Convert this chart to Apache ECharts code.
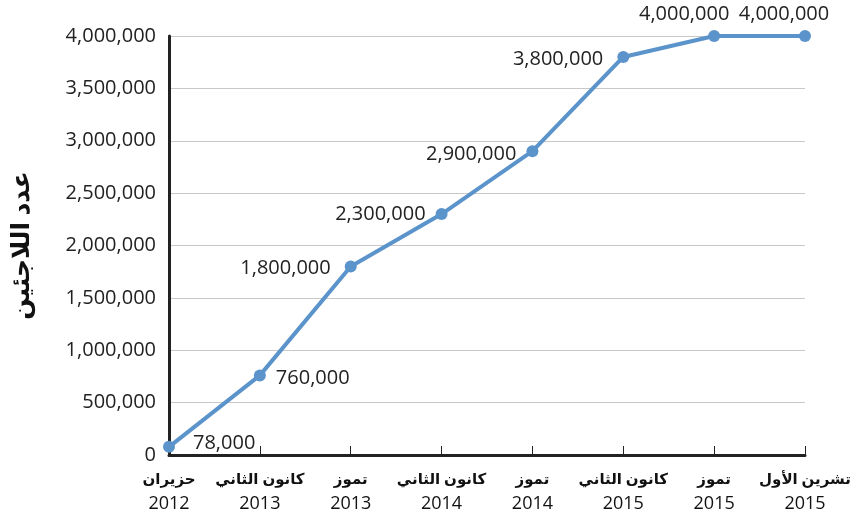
<!DOCTYPE html>
<html><head><meta charset="utf-8">
<script src="https://cdn.jsdelivr.net/npm/echarts@6/dist/echarts.min.js"></script>
<style>html,body{margin:0;padding:0;background:#fff}#c{width:853px;height:513px}</style>
</head><body><div id="c"></div>
<script>
const months = ['حزيران','كانون الثاني','تموز','كانون الثاني','تموز','كانون الثاني','تموز','تشرين الأول'];
const years = ['2012','2013','2013','2014','2014','2015','2015','2015'];
const refugees = [78000, 760000, 1800000, 2300000, 2900000, 3800000, 4000000, 4000000];
const labelPos = ['right','right','left','left','left','left','top','top'];
const labelShift = [[8,-4],[0,3],[-4,2],[0,0],[0,3],[-4,2],[-30,4],[-21,4]];
const yTitle = 'عدد اللاجئين';

const fmt = v => v.toLocaleString('en-US');
const chart = echarts.init(document.getElementById('c'));
chart.setOption({
  animation: false,
  textStyle: {fontFamily: '"Open Sans","Noto Sans",sans-serif'},
  grid: {left: 169, right: 48, top: 36, bottom: 58, containLabel: false, outerBoundsMode: 'none'},
  xAxis: {
    type: 'category', boundaryGap: false,
    data: months.map((m, i) => m + '\n' + years[i]),
    axisLine: {lineStyle: {color: '#222', width: 3}},
    axisTick: {inside: true, length: 9, lineStyle: {color: '#222', width: 1}},
    axisLabel: {
      margin: 13, color: '#111', interval: 0,
      formatter: (v) => { const p = v.split('\n'); return '{m|' + p[0] + '}\n{y|' + p[1] + '}'; },
      rich: {
        m: {fontSize: 15, fontWeight: 'bold', fontFamily: '"Noto Sans","DejaVu Sans",sans-serif', color: '#111', lineHeight: 24},
        y: {fontSize: 18, fontFamily: '"Open Sans","Noto Sans",sans-serif', color: '#111', lineHeight: 24}
      }
    }
  },
  yAxis: {
    type: 'value', min: 0, max: 4000000, interval: 500000,
    name: yTitle, nameLocation: 'middle', nameRotate: 90, nameGap: 135,
    nameTextStyle: {fontSize: 25, fontWeight: 'bold', color: '#111', fontFamily: '"Noto Sans","DejaVu Sans",sans-serif'},
    axisLine: {show: true, lineStyle: {color: '#222', width: 3}},
    axisTick: {show: false},
    axisLabel: {fontSize: 20, color: '#222', margin: 13, formatter: v => fmt(v)},
    splitLine: {lineStyle: {color: '#c8c8c8', width: 1}}
  },
  series: [{
    type: 'line',
    data: refugees.map((v, i) => ({value: v, label: {position: labelPos[i], offset: labelShift[i]}})),
    symbol: 'circle', symbolSize: 12,
    lineStyle: {color: '#5b93cb', width: 4},
    itemStyle: {color: '#5b93cb'},
    label: {show: true, fontSize: 20, color: '#222', distance: 10, formatter: p => fmt(p.value)}
  }]
});
</script></body></html>
